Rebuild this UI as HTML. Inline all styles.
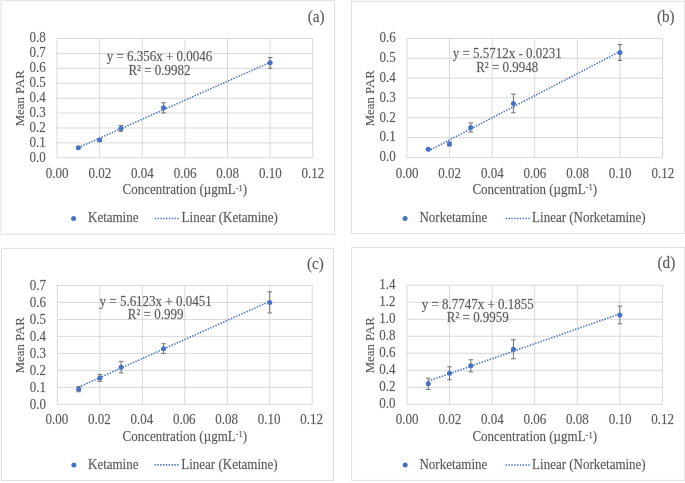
<!DOCTYPE html>
<html><head><meta charset="utf-8"><title>Calibration curves</title>
<style>
html,body{margin:0;padding:0;background:#fff;}
body{width:685px;height:483px;overflow:hidden;}
svg{display:block;will-change:transform;}
svg text{font-family:"Liberation Serif", serif;fill:#595959;stroke:#595959;stroke-width:0.25px;stroke-opacity:0.5;}
svg{-webkit-font-smoothing:antialiased;}
.t{will-change:transform;}
</style></head>
<body>
<svg width="685" height="483" viewBox="0 0 685 483">
<rect width="685" height="483" fill="#fff"/>
<rect x="1.0" y="0.7" width="333.55" height="233.44" fill="#fff" stroke="#E0E0E0" stroke-width="1"/>
<path d="M56.50 157.80H313.25 M56.50 142.89H313.25 M56.50 127.98H313.25 M56.50 113.06H313.25 M56.50 98.15H313.25 M56.50 83.24H313.25 M56.50 68.33H313.25 M56.50 53.41H313.25 M56.50 38.50H313.25 M57.00 38.50V157.80 M99.62 38.50V157.80 M142.25 38.50V157.80 M184.88 38.50V157.80 M227.50 38.50V157.80 M270.12 38.50V157.80 M312.75 38.50V157.80" stroke="#D9D9D9" stroke-width="1" fill="none"/>
<text transform="translate(45.75 161.70) scale(1 1.04)" text-anchor="end" font-size="13">0.0</text>
<text transform="translate(45.75 146.79) scale(1 1.04)" text-anchor="end" font-size="13">0.1</text>
<text transform="translate(45.75 131.88) scale(1 1.04)" text-anchor="end" font-size="13">0.2</text>
<text transform="translate(45.75 116.96) scale(1 1.04)" text-anchor="end" font-size="13">0.3</text>
<text transform="translate(45.75 102.05) scale(1 1.04)" text-anchor="end" font-size="13">0.4</text>
<text transform="translate(45.75 87.14) scale(1 1.04)" text-anchor="end" font-size="13">0.5</text>
<text transform="translate(45.75 72.23) scale(1 1.04)" text-anchor="end" font-size="13">0.6</text>
<text transform="translate(45.75 57.31) scale(1 1.04)" text-anchor="end" font-size="13">0.7</text>
<text transform="translate(45.75 42.40) scale(1 1.04)" text-anchor="end" font-size="13">0.8</text>
<text transform="translate(57.20 177.70) scale(1 1.04)" text-anchor="middle" font-size="13">0.00</text>
<text transform="translate(99.83 177.70) scale(1 1.04)" text-anchor="middle" font-size="13">0.02</text>
<text transform="translate(142.45 177.70) scale(1 1.04)" text-anchor="middle" font-size="13">0.04</text>
<text transform="translate(185.07 177.70) scale(1 1.04)" text-anchor="middle" font-size="13">0.06</text>
<text transform="translate(227.70 177.70) scale(1 1.04)" text-anchor="middle" font-size="13">0.08</text>
<text transform="translate(270.32 177.70) scale(1 1.04)" text-anchor="middle" font-size="13">0.10</text>
<text transform="translate(312.95 177.70) scale(1 1.04)" text-anchor="middle" font-size="13">0.12</text>
<text transform="translate(184.88 194.10) scale(1 1.04)" text-anchor="middle" font-size="13">Concentration (µgmL<tspan font-size="8.5" dy="-3.4">-1</tspan><tspan dy="3.4">)</tspan></text>
<text transform="translate(24.00 98.30) rotate(-90) scale(1 1.0)" text-anchor="middle" font-size="12.8">Mean PAR</text>
<text transform="translate(324.60 21.70) scale(0.95 1.0)" text-anchor="end" font-size="16">(a)</text>
<text transform="translate(159.50 60.60) scale(1 1.04)" text-anchor="middle" font-size="13">y = 6.356x + 0.0046</text>
<text transform="translate(159.50 74.50) scale(1 1.04)" text-anchor="middle" font-size="13">R² = 0.9982</text>
<line x1="78.31" y1="147.64" x2="270.12" y2="62.33" stroke="#4472C4" stroke-width="1.6" stroke-dasharray="1.4 1.43"/>
<path d="M78.31 147.21V148.41M76.01 147.21H80.61M76.01 148.41H80.61 M99.62 138.86V141.25M97.33 138.86H101.92M97.33 141.25H101.92 M120.94 125.51V131.33M118.64 125.51H123.24M118.64 131.33H123.24 M163.56 102.77V112.91M161.26 102.77H165.86M161.26 112.91H165.86 M270.12 57.44V68.18M267.82 57.44H272.43M267.82 68.18H272.43" stroke="#737373" stroke-width="1" fill="none"/>
<circle cx="78.31" cy="147.81" r="2.5" fill="#4472C4"/>
<circle cx="99.62" cy="140.05" r="2.5" fill="#4472C4"/>
<circle cx="120.94" cy="128.42" r="2.5" fill="#4472C4"/>
<circle cx="163.56" cy="107.84" r="2.5" fill="#4472C4"/>
<circle cx="270.12" cy="62.81" r="2.5" fill="#4472C4"/>
<circle cx="73.6" cy="218.5" r="2.5" fill="#4472C4"/>
<text transform="translate(88.00 222.30) scale(1 1.04)" font-size="13">Ketamine</text>
<line x1="154.7" y1="218.5" x2="178.9" y2="218.5" stroke="#4472C4" stroke-width="1.6" stroke-dasharray="1.4 1.43"/>
<text transform="translate(181.60 222.30) scale(1 1.04)" font-size="13">Linear (Ketamine)</text>
<rect x="351.5" y="1.25" width="333.30" height="232.35" fill="#fff" stroke="#E0E0E0" stroke-width="1"/>
<path d="M406.40 157.40H663.06 M406.40 137.57H663.06 M406.40 117.75H663.06 M406.40 97.92H663.06 M406.40 78.09H663.06 M406.40 58.27H663.06 M406.40 38.44H663.06 M406.90 38.44V157.40 M449.51 38.44V157.40 M492.12 38.44V157.40 M534.73 38.44V157.40 M577.34 38.44V157.40 M619.95 38.44V157.40 M662.56 38.44V157.40" stroke="#D9D9D9" stroke-width="1" fill="none"/>
<text transform="translate(395.70 161.30) scale(1 1.04)" text-anchor="end" font-size="13">0.0</text>
<text transform="translate(395.70 141.47) scale(1 1.04)" text-anchor="end" font-size="13">0.1</text>
<text transform="translate(395.70 121.65) scale(1 1.04)" text-anchor="end" font-size="13">0.2</text>
<text transform="translate(395.70 101.82) scale(1 1.04)" text-anchor="end" font-size="13">0.3</text>
<text transform="translate(395.70 81.99) scale(1 1.04)" text-anchor="end" font-size="13">0.4</text>
<text transform="translate(395.70 62.17) scale(1 1.04)" text-anchor="end" font-size="13">0.5</text>
<text transform="translate(395.70 42.34) scale(1 1.04)" text-anchor="end" font-size="13">0.6</text>
<text transform="translate(407.10 177.70) scale(1 1.04)" text-anchor="middle" font-size="13">0.00</text>
<text transform="translate(449.71 177.70) scale(1 1.04)" text-anchor="middle" font-size="13">0.02</text>
<text transform="translate(492.32 177.70) scale(1 1.04)" text-anchor="middle" font-size="13">0.04</text>
<text transform="translate(534.93 177.70) scale(1 1.04)" text-anchor="middle" font-size="13">0.06</text>
<text transform="translate(577.54 177.70) scale(1 1.04)" text-anchor="middle" font-size="13">0.08</text>
<text transform="translate(620.15 177.70) scale(1 1.04)" text-anchor="middle" font-size="13">0.10</text>
<text transform="translate(662.76 177.70) scale(1 1.04)" text-anchor="middle" font-size="13">0.12</text>
<text transform="translate(534.73 193.90) scale(1 1.04)" text-anchor="middle" font-size="13">Concentration (µgmL<tspan font-size="8.5" dy="-3.4">-1</tspan><tspan dy="3.4">)</tspan></text>
<text transform="translate(374.00 98.30) rotate(-90) scale(1 1.0)" text-anchor="middle" font-size="12.8">Mean PAR</text>
<text transform="translate(674.60 21.60) scale(0.95 1.0)" text-anchor="end" font-size="16">(b)</text>
<text transform="translate(507.20 57.80) scale(1 1.04)" text-anchor="middle" font-size="13">y = 5.5712x - 0.0231</text>
<text transform="translate(507.20 71.80) scale(1 1.04)" text-anchor="middle" font-size="13">R² = 0.9948</text>
<line x1="428.20" y1="150.93" x2="619.95" y2="51.52" stroke="#4472C4" stroke-width="1.6" stroke-dasharray="1.4 1.43"/>
<path d="M428.20 148.48V150.06M425.90 148.48H430.50M425.90 150.06H430.50 M449.51 141.94V145.90M447.21 141.94H451.81M447.21 145.90H451.81 M470.81 122.90V132.02M468.51 122.90H473.11M468.51 132.02H473.11 M513.42 94.15V112.79M511.12 94.15H515.72M511.12 112.79H515.72 M619.95 44.59V60.45M617.65 44.59H622.25M617.65 60.45H622.25" stroke="#737373" stroke-width="1" fill="none"/>
<circle cx="428.20" cy="149.27" r="2.5" fill="#4472C4"/>
<circle cx="449.51" cy="143.92" r="2.5" fill="#4472C4"/>
<circle cx="470.81" cy="127.46" r="2.5" fill="#4472C4"/>
<circle cx="513.42" cy="103.47" r="2.5" fill="#4472C4"/>
<circle cx="619.95" cy="52.52" r="2.5" fill="#4472C4"/>
<circle cx="405.1" cy="218.5" r="2.5" fill="#4472C4"/>
<text transform="translate(419.45 222.30) scale(1 1.04)" font-size="13">Norketamine</text>
<line x1="505.7" y1="218.5" x2="529.7" y2="218.5" stroke="#4472C4" stroke-width="1.6" stroke-dasharray="1.4 1.43"/>
<text transform="translate(532.10 222.30) scale(1 1.04)" font-size="13">Linear (Norketamine)</text>
<rect x="1.5" y="248.35" width="332.00" height="232.13" fill="#fff" stroke="#E0E0E0" stroke-width="1"/>
<path d="M56.90 404.34H312.70 M56.90 387.35H312.70 M56.90 370.37H312.70 M56.90 353.38H312.70 M56.90 336.40H312.70 M56.90 319.41H312.70 M56.90 302.43H312.70 M56.90 285.44H312.70 M57.40 285.44V404.34 M99.87 285.44V404.34 M142.33 285.44V404.34 M184.80 285.44V404.34 M227.27 285.44V404.34 M269.73 285.44V404.34 M312.20 285.44V404.34" stroke="#D9D9D9" stroke-width="1" fill="none"/>
<text transform="translate(45.90 408.74) scale(1 1.04)" text-anchor="end" font-size="13">0.0</text>
<text transform="translate(45.90 391.75) scale(1 1.04)" text-anchor="end" font-size="13">0.1</text>
<text transform="translate(45.90 374.77) scale(1 1.04)" text-anchor="end" font-size="13">0.2</text>
<text transform="translate(45.90 357.78) scale(1 1.04)" text-anchor="end" font-size="13">0.3</text>
<text transform="translate(45.90 340.80) scale(1 1.04)" text-anchor="end" font-size="13">0.4</text>
<text transform="translate(45.90 323.81) scale(1 1.04)" text-anchor="end" font-size="13">0.5</text>
<text transform="translate(45.90 306.83) scale(1 1.04)" text-anchor="end" font-size="13">0.6</text>
<text transform="translate(45.90 289.84) scale(1 1.04)" text-anchor="end" font-size="13">0.7</text>
<text transform="translate(56.85 424.40) scale(1 1.04)" text-anchor="middle" font-size="13">0.00</text>
<text transform="translate(99.32 424.40) scale(1 1.04)" text-anchor="middle" font-size="13">0.02</text>
<text transform="translate(141.78 424.40) scale(1 1.04)" text-anchor="middle" font-size="13">0.04</text>
<text transform="translate(184.25 424.40) scale(1 1.04)" text-anchor="middle" font-size="13">0.06</text>
<text transform="translate(226.72 424.40) scale(1 1.04)" text-anchor="middle" font-size="13">0.08</text>
<text transform="translate(269.18 424.40) scale(1 1.04)" text-anchor="middle" font-size="13">0.10</text>
<text transform="translate(311.65 424.40) scale(1 1.04)" text-anchor="middle" font-size="13">0.12</text>
<text transform="translate(184.80 440.85) scale(1 1.04)" text-anchor="middle" font-size="13">Concentration (µgmL<tspan font-size="8.5" dy="-3.4">-1</tspan><tspan dy="3.4">)</tspan></text>
<text transform="translate(24.00 345.30) rotate(-90) scale(1 1.0)" text-anchor="middle" font-size="12.8">Mean PAR</text>
<text transform="translate(323.80 268.50) scale(0.95 1.0)" text-anchor="end" font-size="16">(c)</text>
<text transform="translate(155.60 305.50) scale(1 1.04)" text-anchor="middle" font-size="13">y = 5.6123x + 0.0451</text>
<text transform="translate(155.60 319.30) scale(1 1.04)" text-anchor="middle" font-size="13">R² = 0.999</text>
<line x1="78.63" y1="387.15" x2="269.73" y2="301.35" stroke="#4472C4" stroke-width="1.6" stroke-dasharray="1.4 1.43"/>
<path d="M78.63 386.67V391.77M76.33 386.67H80.93M76.33 391.77H80.93 M99.87 374.62V381.41M97.57 374.62H102.17M97.57 381.41H102.17 M121.10 361.37V372.92M118.80 361.37H123.40M118.80 372.92H123.40 M163.57 343.70V353.55M161.27 343.70H165.87M161.27 353.55H165.87 M269.73 291.89V312.96M267.43 291.89H272.03M267.43 312.96H272.03" stroke="#737373" stroke-width="1" fill="none"/>
<circle cx="78.63" cy="389.22" r="2.5" fill="#4472C4"/>
<circle cx="99.87" cy="378.01" r="2.5" fill="#4472C4"/>
<circle cx="121.10" cy="367.14" r="2.5" fill="#4472C4"/>
<circle cx="163.57" cy="348.63" r="2.5" fill="#4472C4"/>
<circle cx="269.73" cy="302.43" r="2.5" fill="#4472C4"/>
<circle cx="73.9" cy="464.9" r="2.5" fill="#4472C4"/>
<text transform="translate(88.00 469.00) scale(1 1.04)" font-size="13">Ketamine</text>
<line x1="154.5" y1="464.9" x2="178.8" y2="464.9" stroke="#4472C4" stroke-width="1.6" stroke-dasharray="1.4 1.43"/>
<text transform="translate(181.30 469.00) scale(1 1.04)" font-size="13">Linear (Ketamine)</text>
<rect x="351.6" y="247.35" width="333.20" height="233.05" fill="#fff" stroke="#E0E0E0" stroke-width="1"/>
<path d="M406.50 404.34H662.90 M406.50 387.32H662.90 M406.50 370.30H662.90 M406.50 353.28H662.90 M406.50 336.26H662.90 M406.50 319.24H662.90 M406.50 302.22H662.90 M406.50 285.20H662.90 M407.00 285.20V404.34 M449.57 285.20V404.34 M492.13 285.20V404.34 M534.70 285.20V404.34 M577.27 285.20V404.34 M619.83 285.20V404.34 M662.40 285.20V404.34" stroke="#D9D9D9" stroke-width="1" fill="none"/>
<text transform="translate(395.60 408.24) scale(1 1.04)" text-anchor="end" font-size="13">0.0</text>
<text transform="translate(395.60 391.22) scale(1 1.04)" text-anchor="end" font-size="13">0.2</text>
<text transform="translate(395.60 374.20) scale(1 1.04)" text-anchor="end" font-size="13">0.4</text>
<text transform="translate(395.60 357.18) scale(1 1.04)" text-anchor="end" font-size="13">0.6</text>
<text transform="translate(395.60 340.16) scale(1 1.04)" text-anchor="end" font-size="13">0.8</text>
<text transform="translate(395.60 323.14) scale(1 1.04)" text-anchor="end" font-size="13">1.0</text>
<text transform="translate(395.60 306.12) scale(1 1.04)" text-anchor="end" font-size="13">1.2</text>
<text transform="translate(395.60 289.10) scale(1 1.04)" text-anchor="end" font-size="13">1.4</text>
<text transform="translate(407.20 424.40) scale(1 1.04)" text-anchor="middle" font-size="13">0.00</text>
<text transform="translate(449.77 424.40) scale(1 1.04)" text-anchor="middle" font-size="13">0.02</text>
<text transform="translate(492.33 424.40) scale(1 1.04)" text-anchor="middle" font-size="13">0.04</text>
<text transform="translate(534.90 424.40) scale(1 1.04)" text-anchor="middle" font-size="13">0.06</text>
<text transform="translate(577.47 424.40) scale(1 1.04)" text-anchor="middle" font-size="13">0.08</text>
<text transform="translate(620.03 424.40) scale(1 1.04)" text-anchor="middle" font-size="13">0.10</text>
<text transform="translate(662.60 424.40) scale(1 1.04)" text-anchor="middle" font-size="13">0.12</text>
<text transform="translate(534.70 441.15) scale(1 1.04)" text-anchor="middle" font-size="13">Concentration (µgmL<tspan font-size="8.5" dy="-3.4">-1</tspan><tspan dy="3.4">)</tspan></text>
<text transform="translate(374.00 345.30) rotate(-90) scale(1 1.0)" text-anchor="middle" font-size="12.8">Mean PAR</text>
<text transform="translate(675.20 268.20) scale(0.95 1.0)" text-anchor="end" font-size="16">(d)</text>
<text transform="translate(477.80 308.70) scale(1 1.04)" text-anchor="middle" font-size="13">y = 8.7747x + 0.1855</text>
<text transform="translate(477.80 322.30) scale(1 1.04)" text-anchor="middle" font-size="13">R² = 0.9959</text>
<line x1="428.28" y1="381.09" x2="619.83" y2="313.88" stroke="#4472C4" stroke-width="1.6" stroke-dasharray="1.4 1.43"/>
<path d="M428.28 378.21V389.45M425.98 378.21H430.58M425.98 389.45H430.58 M449.57 366.81V379.75M447.27 366.81H451.87M447.27 379.75H451.87 M470.85 359.75V371.83M468.55 359.75H473.15M468.55 371.83H473.15 M513.42 339.75V358.81M511.12 339.75H515.72M511.12 358.81H515.72 M619.83 306.13V323.84M617.53 306.13H622.13M617.53 323.84H622.13" stroke="#737373" stroke-width="1" fill="none"/>
<circle cx="428.28" cy="383.83" r="2.5" fill="#4472C4"/>
<circle cx="449.57" cy="373.28" r="2.5" fill="#4472C4"/>
<circle cx="470.85" cy="365.79" r="2.5" fill="#4472C4"/>
<circle cx="513.42" cy="349.28" r="2.5" fill="#4472C4"/>
<circle cx="619.83" cy="314.98" r="2.5" fill="#4472C4"/>
<circle cx="405.2" cy="465.0" r="2.5" fill="#4472C4"/>
<text transform="translate(419.45 468.80) scale(1 1.04)" font-size="13">Norketamine</text>
<line x1="505.7" y1="465.0" x2="529.7" y2="465.0" stroke="#4472C4" stroke-width="1.6" stroke-dasharray="1.4 1.43"/>
<text transform="translate(532.10 468.80) scale(1 1.04)" font-size="13">Linear (Norketamine)</text>
</svg>
</body></html>
